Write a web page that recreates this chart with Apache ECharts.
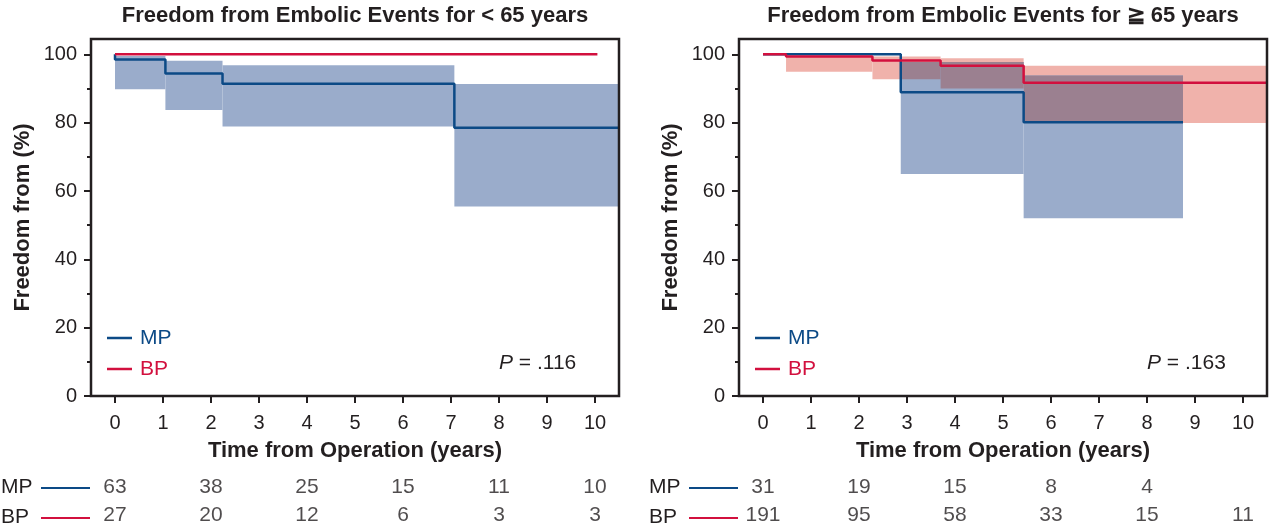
<!DOCTYPE html>
<html><head><meta charset="utf-8">
<script src="https://cdn.jsdelivr.net/npm/echarts@6/dist/echarts.min.js"></script>
<style>html,body{margin:0;padding:0;background:#fff}#c{width:1274px;height:529px}</style>
</head><body><div id="c"></div>
<script>
const FONT = "'Liberation Sans', Arial, sans-serif";
const INK = '#231f20';
const MP_COLOR = '#0c4a86';
const BP_COLOR = '#d2103e';
const MP_BAND = '#9aaccb';
const BP_BAND = '#f0b2ab';
const OVERLAP_BAND = '#9b8090';

// axis ticks
const xTicks = [0,1,2,3,4,5,6,7,8,9,10];
const yTicks = [0,20,40,60,80,100];
const yMinorTicks = [10,30,50,70,90];
const riskYears = [0,2,4,6,8,10];
const riskRows = ['MP','BP'];
const titles = ['Freedom from Embolic Events for < 65 years', 'Freedom from Embolic Events for \u2267 65 years'];
const pValues = ['.116', '.163'];

// < 65 years
const lt65MpTime = [0, 0, 1.05, 2.24, 7.07, 10.5];
const lt65MpSurv = [100, 98.5, 94.4, 91.4, 78.5, 78.5];
const lt65BpTime = [0, 10.05];
const lt65BpSurv = [100, 100];
const lt65MpBandStart = [0, 1.05, 2.24, 7.07];
const lt65MpBandEnd = [1.05, 2.24, 7.07, 10.5];
const lt65MpBandLow = [89.8, 83.7, 78.9, 55.5];
const lt65MpBandHigh = [99.5, 98.1, 96.8, 91.3];
const lt65MpRisk = [63, 38, 25, 15, 11, 10];
const lt65BpRisk = [27, 20, 12, 6, 3, 3];

// >= 65 years
const ge65MpTime = [0, 2.87, 5.43, 8.75];
const ge65MpSurv = [100, 88.9, 80.1, 80.1];
const ge65BpTime = [0, 0.48, 2.28, 3.70, 5.43, 10.5];
const ge65BpSurv = [100, 99.4, 98.2, 96.7, 91.7, 91.7];
const ge65MpBandStart = [2.87, 5.43];
const ge65MpBandEnd = [5.43, 8.75];
const ge65MpBandLow = [65.0, 52.0];
const ge65MpBandHigh = [97.8, 93.8];
const ge65BpBandStart = [0.48, 2.28, 3.70, 5.43];
const ge65BpBandEnd = [2.28, 3.70, 5.43, 10.5];
const ge65BpBandLow = [94.9, 92.7, 90.0, 79.9];
const ge65BpBandHigh = [99.6, 99.4, 98.9, 96.7];
const ge65MpRisk = [31, 19, 15, 8, 4];
const ge65BpRisk = [191, 95, 58, 33, 15, 11];

const zip = (a, b) => a.map((v, i) => [v, b[i]]);
const bands = (s, e, lo, hi) => s.map((v, i) => [v, e[i], lo[i], hi[i]]);
// where two confidence bands overlap (derived from the band arrays)
function overlaps(a, b) {
  const out = [];
  a.forEach(p => b.forEach(q => {
    const s = Math.max(p[0], q[0]), e = Math.min(p[1], q[1]);
    const lo = Math.max(p[2], q[2]), hi = Math.min(p[3], q[3]);
    if (e > s && hi > lo) out.push([s, e, lo, hi]);
  }));
  return out;
}

const panelLeft = [91, 739];
const plotW = 528, plotTop = 39, plotH = 357;

function bandSeries(data, color, gi, z) {
  return {
    type: 'custom', xAxisIndex: gi * 3, yAxisIndex: gi * 3, data: data, z: z, silent: true,
    encode: { x: [0, 1], y: [2, 3] },
    renderItem: function (params, api) {
      const p0 = api.coord([api.value(0), api.value(3)]);
      const p1 = api.coord([api.value(1), api.value(2)]);
      return { type: 'rect', shape: { x: p0[0], y: p0[1], width: p1[0] - p0[0], height: p1[1] - p0[1] },
        style: { fill: color } };
    }
  };
}
function kmSeries(name, data, color, gi, z) {
  return { type: 'line', name: name, xAxisIndex: gi * 3, yAxisIndex: gi * 3, data: data, step: 'end',
    symbol: 'none', lineStyle: { width: 2.5, color: color }, itemStyle: { color: color }, z: z, silent: true };
}
function riskSeries(values, row, gi) {
  return { type: 'scatter', xAxisIndex: gi * 3 + 2, yAxisIndex: gi * 3 + 2,
    data: values.map((v, i) => [riskYears[i], row, v]), symbolSize: 1, itemStyle: { color: 'rgba(0,0,0,0)' },
    label: { show: true, position: 'inside', formatter: p => String(p.value[2]), fontFamily: FONT, fontSize: 21, color: INK },
    silent: true };
}

const grid = [], xAxis = [], yAxis = [], legend = [], title = [], graphic = [];
[0, 1].forEach(gi => {
  const L = panelLeft[gi];
  grid.push({ left: L, top: plotTop, width: plotW, height: plotH, show: true, z: 10,
    backgroundColor: 'transparent', borderColor: INK, borderWidth: 2.5 });
  grid.push({ left: L, top: plotTop, width: plotW, height: plotH, show: false });
  grid.push({ left: L, top: 473, width: plotW, height: 60, show: false });
  // main axes
  xAxis.push({ gridIndex: gi * 3, type: 'value', min: -0.5, max: 10.5, splitLine: { show: false },
    axisLine: { show: false, onZero: false },
    axisTick: { show: true, customValues: xTicks, length: 7, inside: false, lineStyle: { color: INK, width: 2 } },
    axisLabel: { customValues: xTicks, fontFamily: FONT, fontSize: 20, color: INK, margin: 17 },
    name: 'Time from Operation (years)', nameLocation: 'middle', nameGap: 44,
    nameTextStyle: { fontFamily: FONT, fontSize: 22, fontWeight: 'bold', color: INK } });
  yAxis.push({ gridIndex: gi * 3, type: 'value', min: 0, max: 104.5, splitLine: { show: false },
    axisLine: { show: false, onZero: false },
    axisTick: { show: true, customValues: yTicks, length: 7, inside: false, lineStyle: { color: INK, width: 2 } },
    axisLabel: { customValues: yTicks, fontFamily: FONT, fontSize: 20, color: INK, margin: 14 },
    name: 'Freedom from (%)', nameLocation: 'middle', nameGap: 57,
    nameTextStyle: { fontFamily: FONT, fontSize: 22, fontWeight: 'bold', color: INK } });
  // minor tick axes
  xAxis.push({ gridIndex: gi * 3 + 1, type: 'value', min: -0.5, max: 10.5, show: false });
  yAxis.push({ gridIndex: gi * 3 + 1, type: 'value', min: 0, max: 104.5, splitLine: { show: false },
    axisLine: { show: false, onZero: false }, axisLabel: { show: false },
    axisTick: { show: true, customValues: yMinorTicks, length: 4, inside: false, lineStyle: { color: INK, width: 2 } } });
  // risk table axes
  xAxis.push({ gridIndex: gi * 3 + 2, type: 'value', min: -0.5, max: 10.5, show: false });
  yAxis.push({ gridIndex: gi * 3 + 2, type: 'category', data: riskRows, inverse: true, show: false });

  legend.push({ left: L + 16, top: 326, padding: 0, orient: 'vertical', selectedMode: false, icon: 'rect',
    itemWidth: 25, itemHeight: 2.5, itemGap: 7,
    data: [{ name: 'MP', textStyle: { color: MP_COLOR } }, { name: 'BP', textStyle: { color: BP_COLOR } }],
    textStyle: { fontFamily: FONT, fontSize: 21, lineHeight: 24, padding: [0, 0, 0, 3] } });
  title.push({ text: titles[gi], left: L + plotW / 2, top: 5, textAlign: 'center', padding: 0,
    textStyle: { fontFamily: FONT, fontSize: 22, fontWeight: 'bold', color: INK } });
  graphic.push({ type: 'text', left: L + 408, top: 353,
    style: { text: '{i|P} = ' + pValues[gi], fontFamily: FONT, fontSize: 21, fill: INK,
      rich: { i: { fontStyle: 'italic', fontFamily: FONT, fontSize: 21, fill: INK } } } });
  const rowX = gi === 0 ? 1 : 649;
  [['MP', 488, MP_COLOR], ['BP', 518, BP_COLOR]].forEach(r => {
    graphic.push({ type: 'text', left: rowX, top: r[1] - 11,
      style: { text: r[0], fontFamily: FONT, fontSize: 21, fill: INK } });
    graphic.push({ type: 'line', shape: { x1: rowX + 40, y1: r[1], x2: rowX + 89, y2: r[1] },
      style: { stroke: r[2], lineWidth: 2 } });
  });
});

const lt65MpBands = bands(lt65MpBandStart, lt65MpBandEnd, lt65MpBandLow, lt65MpBandHigh);
const ge65MpBands = bands(ge65MpBandStart, ge65MpBandEnd, ge65MpBandLow, ge65MpBandHigh);
const ge65BpBands = bands(ge65BpBandStart, ge65BpBandEnd, ge65BpBandLow, ge65BpBandHigh);

const series = [
  bandSeries(lt65MpBands, MP_BAND, 0, 1),
  kmSeries('MP', zip(lt65MpTime, lt65MpSurv), MP_COLOR, 0, 3),
  kmSeries('BP', zip(lt65BpTime, lt65BpSurv), BP_COLOR, 0, 4),
  riskSeries(lt65MpRisk, 'MP', 0),
  riskSeries(lt65BpRisk, 'BP', 0),
  bandSeries(ge65BpBands, BP_BAND, 1, 1),
  bandSeries(ge65MpBands, MP_BAND, 1, 1),
  bandSeries(overlaps(ge65MpBands, ge65BpBands), OVERLAP_BAND, 1, 2),
  kmSeries('MP', zip(ge65MpTime, ge65MpSurv), MP_COLOR, 1, 3),
  kmSeries('BP', zip(ge65BpTime, ge65BpSurv), BP_COLOR, 1, 4),
  riskSeries(ge65MpRisk, 'MP', 1),
  riskSeries(ge65BpRisk, 'BP', 1)
];

const chart = echarts.init(document.getElementById('c'), null, { renderer: 'canvas' });
chart.setOption({ animation: false, backgroundColor: '#fff', title, grid, xAxis, yAxis, legend, graphic, series });
</script></body></html>
